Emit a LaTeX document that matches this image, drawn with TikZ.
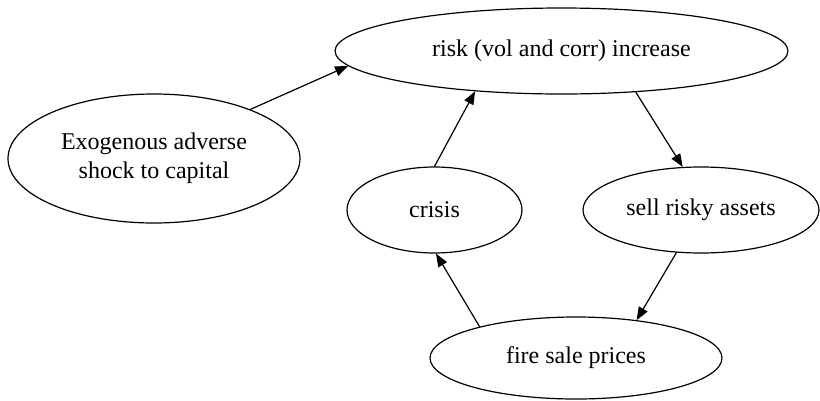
\documentclass[tikz,border=0pt]{standalone}
\usepackage{fontspec}
\setmainfont{Liberation Serif}
\usetikzlibrary{shapes.geometric,arrows.meta}
\begin{document}
\begin{tikzpicture}[x=1pt,y=-1pt,
  oval/.style={ellipse,draw,line width=1.2pt,inner sep=0pt,align=center,
    font=\fontsize{24}{29}\selectfont},
  conn/.style={line width=1.2pt,-{Triangle[length=13pt,width=10pt]}}]
\useasboundingbox (0,0) rectangle (820,400);
\node[oval,minimum width=453pt,minimum height=86pt] (risk) at (561.5,51) {risk (vol and corr) increase};
\node[oval,minimum width=292pt,minimum height=129pt] (exo) at (154,158.5) {Exogenous adverse\\shock to capital};
\node[oval,minimum width=175pt,minimum height=86pt] (crisis) at (434.5,210) {crisis};
\node[oval,minimum width=236pt,minimum height=86pt] (sell) at (701,210) {sell risky assets};
\node[oval,minimum width=292pt,minimum height=82pt] (fire) at (576,358) {fire sale prices};
\draw[conn] (exo.27) -- (risk.184);
\draw[conn] (crisis.90) -- (risk.205);
\draw[conn] (risk.331) -- (sell.113);
\draw[conn] (sell.240) -- (fire.32);
\draw[conn] (fire.162) -- (crisis.272);
\end{tikzpicture}
\end{document}
